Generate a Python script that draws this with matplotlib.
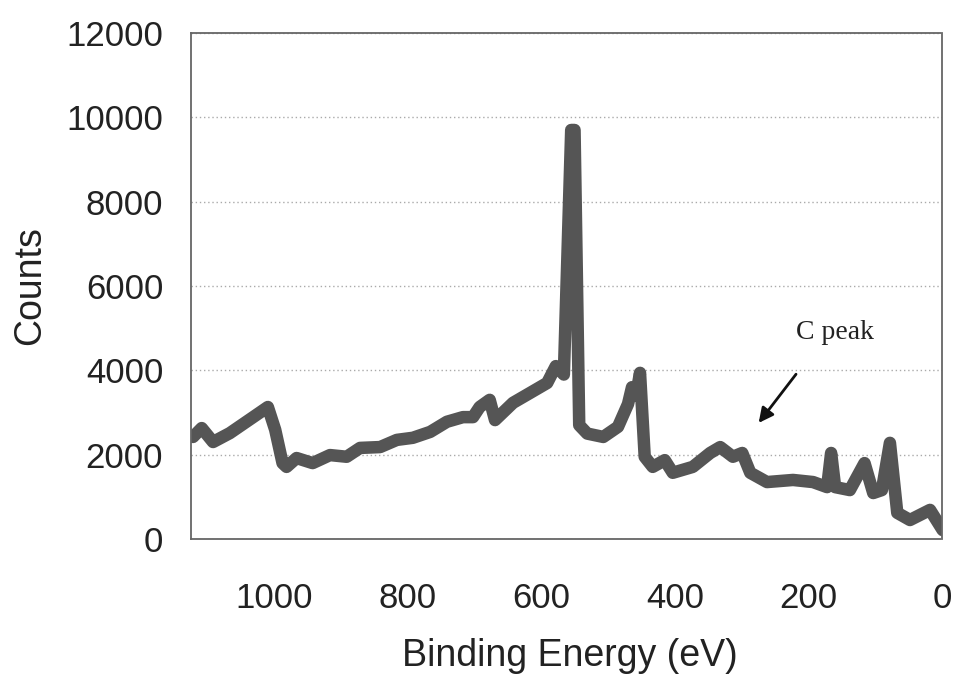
import matplotlib
matplotlib.use("Agg")
import matplotlib.pyplot as plt

# XPS survey spectrum
binding_energy = [1121, 1108, 1091, 1066, 1031, 1009, 998, 987, 981, 966,
                  942, 916, 891, 871, 841, 816, 792, 766, 741, 717,
                  702, 692, 677, 669, 642, 617, 591, 578, 566, 555,
                  550, 543, 531, 507, 485, 470, 464, 458, 452, 445,
                  433, 415, 403, 373, 347, 332, 313, 299, 287, 262,
                  223, 193, 172, 166, 160, 138, 116, 103, 90, 78,
                  67, 48, 18, -1]
counts = [2420, 2630, 2300, 2510, 2890, 3130, 2590, 1800, 1710, 1920,
          1800, 1990, 1950, 2160, 2180, 2350, 2400, 2540, 2780, 2890,
          2890, 3130, 3300, 2820, 3230, 3460, 3700, 4100, 3900, 9700,
          9700, 2700, 2500, 2420, 2660, 3200, 3600, 3400, 3940, 1950,
          1710, 1870, 1570, 1710, 2040, 2180, 1950, 2040, 1570, 1350,
          1400, 1350, 1230, 2040, 1230, 1160, 1800, 1090, 1160, 2280,
          620, 450, 690, 210]

y_ticks = [0, 2000, 4000, 6000, 8000, 10000, 12000]
x_ticks = [1000, 800, 600, 400, 200, 0]

fig = plt.figure(figsize=(9.56, 6.75), dpi=100)
ax = fig.add_axes([0.1998, 0.2015, 0.7856, 0.7496])

ax.plot(binding_energy, counts, color="#555555", linewidth=9,
        solid_joinstyle="round", solid_capstyle="round")

ax.set_xlim(1124, 0)
ax.set_ylim(0, 12000)
ax.set_xticks(x_ticks)
ax.set_yticks(y_ticks)

ax.grid(axis="y", color="#aaaaaa", linestyle=(0, (1, 2)), linewidth=1.0)
for s in ax.spines.values():
    s.set_color("#666666")
    s.set_linestyle((0, (1, 1)))
    s.set_linewidth(1.3)

ax.tick_params(axis="both", length=0, colors="#222222",
               labelsize=25)
ax.tick_params(axis="y", pad=20)
ax.tick_params(axis="x", pad=31)
for lab in ax.get_xticklabels() + ax.get_yticklabels():
    lab.set_family("Liberation Sans")

ax.set_xlabel("Binding Energy (eV)", fontsize=27, family="Liberation Sans",
              color="#222222")
ax.set_ylabel("Counts", fontsize=27, family="Liberation Sans",
              color="#222222")
ax.xaxis.set_label_coords(0.505, -0.195)
ax.yaxis.set_label_coords(-0.19, 0.5)

# annotation for the carbon peak
ax.text(160, 4890, "C peak", fontsize=20, family="Liberation Serif",
        ha="center", va="center", color="#222222")
ax.annotate("", xy=(277, 2700), xytext=(216, 3960),
            arrowprops=dict(arrowstyle="-|>", color="#111111", lw=2,
                            mutation_scale=22))

fig.savefig("out.png", dpi=100)
